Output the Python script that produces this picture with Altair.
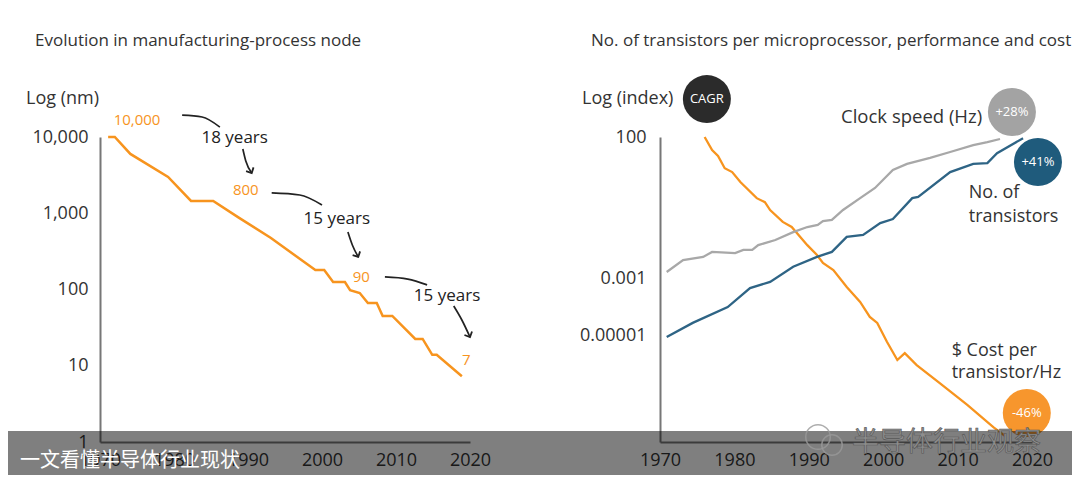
import altair as alt
import pandas as pd

FONT = "Open Sans"
ORANGE = "#f7941e"
GREY_LINE = "#a8a8a8"
BLUE = "#2e6485"
TXT = "#333333"

# ---------------- Left panel: process node (nm) ----------------
node_years = [1971.1, 1972.0, 1974.1, 1979.2, 1982.3, 1985.3, 1988.8, 1993.1, 1999.1, 2000.3,
              2001.5, 2003.1, 2003.8, 2005.1, 2006.2, 2007.4, 2008.2, 2009.5, 2012.6, 2013.6,
              2014.9, 2015.5, 2018.9]
node_nm = [10000, 10000, 6000, 2990, 1450, 1450, 870, 473, 180, 180,
           125, 125, 98, 90, 66.5, 66.5, 45, 45, 22.5, 22.5,
           13.9, 13.9, 7.3]

year_ticks = [1970, 1980, 1990, 2000, 2010, 2020]
left_y_ticks = [1, 10, 100, 1000, 10000]

node_labels = ["10,000", "800", "90", "7"]
node_label_years = [1975.0, 1989.7, 2005.3, 2019.5]
node_label_vals = [16700, 2020, 146, 11.9]

gap_labels = ["18 years", "15 years", "15 years"]
gap_label_years = [1988.2, 2002.0, 2016.9]
gap_label_vals = [9700, 841, 82]

# connector curves and arrows (id, year, value)
curve_ids = ["c1", "c1", "c1", "c2", "c2", "c2", "c3", "c3", "c3",
             "a1", "a1", "a1", "a2", "a2", "a2", "a3", "a3", "a3"]
curve_years = [1981.1, 1983.8, 1986.2, 1993.2, 1997.0, 2000.0, 2008.5, 2011.6, 2014.2,
               1989.3, 1989.7, 1990.5, 2003.5, 2004.1, 2004.9, 2017.8, 2018.9, 2020.0]
curve_vals = [19400, 18300, 13500, 1845, 1735, 1283, 146, 137, 115,
              6960, 4840, 3370, 568, 384, 267, 60.8, 39.8, 23.8]
head_years = [1990.5, 2004.9, 2020.0]
head_vals = [3370, 267, 23.8]
head_angles = [333, 333, 335]

# ---------------- Right panel: index ----------------
cost_years = [1976.0, 1977.0, 1977.8, 1978.7, 1979.7, 1980.8, 1983.0, 1984.1, 1984.8, 1986.5,
              1987.7, 1989.8, 1991.1, 1991.9, 1993.3, 1995.1, 1996.9, 1998.2, 1999.2, 2000.5,
              2001.9, 2002.9, 2004.5, 2007.6, 2011.3, 2014.8, 2016.4]
cost_vals = [100, 34.7, 21.4, 7.9, 5.75, 2.57, 0.69, 0.50, 0.263, 0.10,
             0.066, 0.0151, 0.0068, 0.00355, 0.0020, 5.0e-4, 1.48e-4, 4.4e-5, 2.7e-5, 5.8e-6,
             1.32e-6, 2.3e-6, 8.7e-7, 2.0e-7, 3.4e-8, 5.6e-9, 2.7e-9]

clock_years = [1970.9, 1973.1, 1975.8, 1977.0, 1980.1, 1981.2, 1982.4, 1983.2, 1985.5, 1987.9,
               1989.8, 1991.2, 1991.9, 1993.1, 1994.6, 1996.9, 1998.9, 2001.3, 2003.2, 2006.3,
               2009.0, 2012.1, 2014.0, 2015.7]
clock_vals = [1.7e-3, 4.5e-3, 5.8e-3, 8.7e-3, 7.9e-3, 0.0102, 0.0102, 0.0151, 0.0229, 0.0437,
              0.066, 0.078, 0.107, 0.117, 0.263, 0.69, 1.58, 6.8, 11.2, 18.2,
              29.5, 52, 66, 85]

trans_years = [1970.9, 1974.4, 1979.1, 1982.1, 1984.8, 1987.9, 1991.1, 1993.1, 1995.1, 1997.3,
               1999.6, 2001.3, 2003.9, 2004.7, 2009.0, 2012.1, 2014.0, 2015.3, 2018.8]
trans_vals = [8.5e-6, 2.7e-5, 9.8e-5, 4.6e-4, 7.6e-4, 2.6e-3, 5.8e-3, 8.7e-3, 0.0295, 0.0347,
              0.091, 0.126, 0.69, 0.76, 5.75, 11.2, 12.0, 26.9, 91]

right_y_ticks = [1e-5, 1e-3, 100]

badge_labels = ["CAGR", "+28%", "+41%", "-46%"]
badge_years = [1976.3, 2017.3, 2020.8, 2019.3]
badge_vals = [2190, 762, 13.1, 1.77e-8]
badge_colors = ["#2b2b2b", "#a3a3a3", "#1f5b7c", "#f7962d"]

series_labels = ["No. of", "transistors", "$ Cost per", "transistor/Hz"]
series_label_years = [2011.5, 2011.5, 2009.2, 2009.2]
series_label_vals = [1.05, 0.149, 2.75e-6, 4.57e-7]
clock_label = "Clock speed (Hz)"
clock_label_year = 2013.3
clock_label_val = 509

one = pd.DataFrame({"k": [0]})

# ---------------- encodings ----------------
def x_enc():
    return alt.X("year:Q", scale=alt.Scale(domain=[1970, 2020], nice=False, zero=False),
                 axis=alt.Axis(values=year_ticks, format="d", title=None, labelPadding=9,
                               labelFlush=False))

left_y = alt.Y("value:Q", scale=alt.Scale(type="log", domain=[1, 10000], nice=False),
               axis=alt.Axis(values=left_y_ticks, format=",", title=None, labelPadding=12,
                             labelFlush=False))
right_y = alt.Y("value:Q", scale=alt.Scale(type="log", domain=[1.67e-9, 100], nice=False),
                axis=alt.Axis(values=right_y_ticks, title=None, labelPadding=14, labelFlush=False,
                              labelExpr="datum.value >= 50 ? '100' : (datum.value >= 1e-4 ? '0.001' : '0.00001')"))

# ---------------- Left panel layers ----------------
node_df = pd.DataFrame({"year": node_years, "value": node_nm})
node_lab_df = pd.DataFrame({"year": node_label_years, "value": node_label_vals, "t": node_labels})
gap_lab_df = pd.DataFrame({"year": gap_label_years, "value": gap_label_vals, "t": gap_labels})
curve_df = pd.DataFrame({"id": curve_ids, "year": curve_years, "value": curve_vals})
head_df = pd.DataFrame({"year": head_years, "value": head_vals, "ang": head_angles})

spacer = alt.Chart(one).mark_rect(color="white").encode(
    x=alt.value(0), x2=alt.value(10), y=alt.value(-129), y2=alt.value(-122))

left_line = alt.Chart(node_df).mark_line(color=ORANGE, strokeWidth=2.5).encode(
    x=x_enc(), y=left_y)
left_nlab = alt.Chart(node_lab_df).mark_text(color=ORANGE, fontSize=15, font=FONT).encode(
    x=x_enc(), y=left_y, text="t:N")
left_glab = alt.Chart(gap_lab_df).mark_text(color="#222", fontSize=17, font=FONT).encode(
    x=x_enc(), y=left_y, text="t:N")
left_curves = alt.Chart(curve_df).mark_line(color="#222", strokeWidth=1.7, interpolate="monotone").encode(
    x=x_enc(), y=left_y, detail="id:N")
left_heads = alt.Chart(head_df).mark_point(shape="M-1,-1L0,0L1,-1", filled=False, color="#222",
                                           strokeWidth=1.8, size=70, opacity=1).encode(
    x=x_enc(), y=left_y, angle=alt.Angle("ang:Q", scale=None))
left_title = alt.Chart(one).mark_text(align="left", fontSize=17, color=TXT, font=FONT).encode(
    x=alt.value(-65), y=alt.value(-96), text=alt.value("Evolution in manufacturing-process node"))
left_ytitle = alt.Chart(one).mark_text(align="left", fontSize=18, color=TXT, font=FONT).encode(
    x=alt.value(-74), y=alt.value(-38), text=alt.value("Log (nm)"))
left_band = alt.Chart(one).mark_rect(color="black", opacity=0.5).encode(
    x=alt.value(-92), x2=alt.value(370), y=alt.value(294), y2=alt.value(338))
band_text = alt.Chart(one).mark_text(align="left", fontSize=20, color="white",
                                     font="Noto Sans CJK SC").encode(
    x=alt.value(-80), y=alt.value(324), text=alt.value("一文看懂半导体行业现状"))

left = alt.layer(spacer, left_line, left_curves, left_heads, left_nlab, left_glab,
                 left_title, left_ytitle, left_band, band_text).properties(width=370, height=305)

# ---------------- Right panel layers ----------------
series_df = pd.concat([
    pd.DataFrame({"year": cost_years, "value": cost_vals, "s": "cost"}),
    pd.DataFrame({"year": clock_years, "value": clock_vals, "s": "clock"}),
    pd.DataFrame({"year": trans_years, "value": trans_vals, "s": "trans"}),
])
badge_df = pd.DataFrame({"year": badge_years, "value": badge_vals, "t": badge_labels, "c": badge_colors})
slab_df = pd.DataFrame({"year": series_label_years, "value": series_label_vals, "t": series_labels})
clab_df = pd.DataFrame({"year": [clock_label_year], "value": [clock_label_val], "t": [clock_label]})

right_lines = alt.Chart(series_df).mark_line(strokeWidth=2.3).encode(
    x=x_enc(), y=right_y,
    color=alt.Color("s:N", scale=alt.Scale(domain=["cost", "clock", "trans"],
                                           range=[ORANGE, GREY_LINE, BLUE]), legend=None),
    detail="s:N")
right_badges = alt.Chart(badge_df).mark_point(shape="circle", filled=True, size=2304, opacity=1).encode(
    x=x_enc(), y=right_y, color=alt.Color("c:N", scale=None))
right_badge_txt = alt.Chart(badge_df).mark_text(color="white", fontSize=13, font=FONT).encode(
    x=x_enc(), y=right_y, text="t:N")
right_slab = alt.Chart(slab_df).mark_text(align="left", fontSize=18, color=TXT, font=FONT).encode(
    x=x_enc(), y=right_y, text="t:N")
right_clab = alt.Chart(clab_df).mark_text(align="right", fontSize=18.5, color=TXT, font=FONT).encode(
    x=x_enc(), y=right_y, text="t:N")
right_title = alt.Chart(one).mark_text(align="left", fontSize=17, color=TXT, font=FONT).encode(
    x=alt.value(-69), y=alt.value(-96),
    text=alt.value("No. of transistors per microprocessor, performance and cost"))
right_ytitle = alt.Chart(one).mark_text(align="left", fontSize=18, color=TXT, font=FONT).encode(
    x=alt.value(-78), y=alt.value(-38), text=alt.value("Log (index)"))
right_band = alt.Chart(one).mark_rect(color="black", opacity=0.5).encode(
    x=alt.value(-190), x2=alt.value(412), y=alt.value(294), y2=alt.value(338))
wm_icon = alt.Chart(pd.DataFrame({"px": [158, 172], "py": [300, 308], "s": [600, 420]})).mark_point(
    shape="circle", filled=False, color="#9a9a9a", strokeWidth=1.5, opacity=0.8).encode(
    x=alt.X("px:Q", scale=None), y=alt.Y("py:Q", scale=None), size=alt.Size("s:Q", scale=None))
watermark = alt.Chart(one).mark_text(align="left", fontSize=27, color="#8e8e8e", stroke="#555555",
                                     strokeWidth=0.6, font="Noto Sans CJK SC").encode(
    x=alt.value(192), y=alt.value(306), text=alt.value("半导体行业观察"))

right = alt.layer(right_lines, right_badges, right_badge_txt, right_slab, right_clab,
                  right_title, right_ytitle, right_band, wm_icon, watermark).properties(width=372, height=305)

chart = alt.hconcat(left, right, spacing=190, bounds="flush").properties(
    padding=0
).configure_view(strokeWidth=0).configure_axis(
    domainColor="#777777", domainWidth=2, ticks=False, grid=False,
    labelFont=FONT, labelFontSize=18, labelColor=TXT
).configure_text(font=FONT)

chart.save("out.html", embed_options={"renderer": "svg", "actions": False})
